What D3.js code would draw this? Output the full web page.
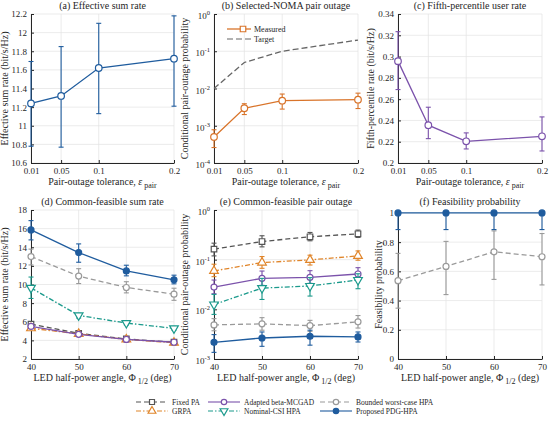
<!DOCTYPE html>
<html><head><meta charset="utf-8">
<script src="https://cdn.jsdelivr.net/npm/d3@7"></script>
<style>body{margin:0;background:#fff}svg{display:block}text{font-family:"Liberation Serif","DejaVu Serif",serif;fill:#262626}</style>
</head><body><svg id="c" width="550" height="421"></svg>
<script>
// ---------- data ----------
const tolerances = [0.01, 0.05, 0.1, 0.2];
const tolTicks = ["0.01", "0.05", "0.1", "0.2"];
const angles = [40, 50, 60, 70];

// (a) effective sum rate vs tolerance
const sumRate = [11.24, 11.32, 11.62, 11.72];
const sumRateLo = [10.78, 10.77, 11.13, 11.21];
const sumRateHi = [11.69, 11.85, 12.10, 12.18];

// (b) selected-NOMA pair outage
const measured = [5.0e-4, 2.95e-3, 4.7e-3, 5.0e-3];
const measuredLo = [2.6e-4, 2.0e-3, 2.8e-3, 2.9e-3];
const measuredHi = [7.8e-4, 3.9e-3, 7.1e-3, 7.5e-3];
const target = [0.01, 0.05, 0.1, 0.2];

// (c) fifth-percentile user rate
const p5Rate = [0.2957, 0.2355, 0.2204, 0.2251];
const p5RateLo = [0.269, 0.2229, 0.2132, 0.2113];
const p5RateHi = [0.3234, 0.2524, 0.2283, 0.2433];

// schemes
const schemes = ["Fixed PA", "GRPA", "Adapted beta-MCGAD", "Nominal-CSI HPA", "Bounded worst-case HPA", "Proposed PDG-HPA"];

// (d) common-feasible sum rate [scheme][angle]
const cfRate = [
  [5.75, 4.75, 4.15, 3.8],
  [5.3, 4.7, 4.1, 3.75],
  [5.5, 4.65, 4.1, 3.8],
  [9.64, 6.68, 5.86, 5.29],
  [13.0, 10.9, 9.68, 8.96],
  [15.86, 13.43, 11.46, 10.5]
];
const cfRateLo = [
  [5.6, 4.6, 4.0, 3.65],
  [5.15, 4.55, 3.95, 3.6],
  [5.35, 4.5, 3.95, 3.65],
  [8.5, 6.4, 5.65, 5.1],
  [12.1, 10.1, 9.1, 8.3],
  [14.79, 12.39, 10.93, 10.07]
];
const cfRateHi = [
  [5.9, 4.9, 4.3, 3.95],
  [5.45, 4.85, 4.25, 3.9],
  [5.65, 4.8, 4.25, 3.95],
  [10.8, 6.9, 6.05, 5.5],
  [13.8, 11.7, 10.3, 9.6],
  [16.86, 14.36, 12.07, 11.0]
];

// (e) common-feasible pair outage
const cfOut = [
  [0.163, 0.232, 0.289, 0.332],
  [0.0593, 0.0874, 0.0989, 0.119],
  [0.0281, 0.0421, 0.0441, 0.0515],
  [0.0125, 0.0268, 0.0295, 0.039],
  [0.00486, 0.0051, 0.0047, 0.0056],
  [0.00217, 0.00265, 0.00287, 0.00278]
];
const cfOutLo = [
  [0.119, 0.181, 0.24, 0.28],
  [0.0455, 0.067, 0.078, 0.0975],
  [0.0206, 0.0304, 0.0334, 0.039],
  [0.0079, 0.0158, 0.0185, 0.026],
  [0.0037, 0.0038, 0.0036, 0.0042],
  [0.00136, 0.0018, 0.0019, 0.0022]
];
const cfOutHi = [
  [0.215, 0.303, 0.353, 0.394],
  [0.081, 0.1156, 0.123, 0.150],
  [0.0389, 0.059, 0.06, 0.069],
  [0.02, 0.042, 0.0435, 0.052],
  [0.0065, 0.0068, 0.006, 0.0075],
  [0.0031, 0.0035, 0.0038, 0.0035]
];

// (f) feasibility probability (visible series)
const feasBounded = [0.536, 0.634, 0.734, 0.70];
const feasBoundedLo = [0.348, 0.441, 0.545, 0.507];
const feasBoundedHi = [0.723, 0.805, 0.877, 0.859];
const feasProposed = [1, 1, 1, 1];
const feasProposedLo = [0.886, 0.886, 0.886, 0.886];
const feasProposedHi = [1, 1, 1, 1];

// ---------- styles ----------
const styles = [
  {color:"#555555", dash:"5,3", marker:"square", fill:"#fff"},
  {color:"#e0852a", dash:"5,2,1.5,2", marker:"tri", fill:"#fff"},
  {color:"#7b52ab", dash:null, marker:"circle", fill:"#fff"},
  {color:"#1b9a8c", dash:"5,2,1.5,2", marker:"itri", fill:"#fff"},
  {color:"#9a9a9a", dash:"5,3", marker:"circle", fill:"#fff"},
  {color:"#1f5c9e", dash:null, marker:"circle", fill:"#1f5c9e"}
];
const blue = "#1f5c9e", orange = "#d9742a", purple = "#7b52ab";

const svg = d3.select("#c");

function drawMarker(g, type, x, y, color, fill, r) {
  r = r || 3;
  if (type === "none") return;
  if (type === "circle") {
    g.append("circle").attr("cx", x).attr("cy", y).attr("r", r).attr("fill", fill).attr("stroke", color).attr("stroke-width", 1.2);
  } else {
    let p;
    if (type === "square") p = d3.symbol(d3.symbolSquare, r*r*3.4)();
    else p = d3.symbol(d3.symbolTriangle, r*r*3.6)();
    g.append("path").attr("d", p)
      .attr("transform", `translate(${x},${y})` + (type === "itri" ? " rotate(180)" : ""))
      .attr("fill", fill).attr("stroke", color).attr("stroke-width", 1.2);
  }
}

function panel(cfg) {
  const g = svg.append("g");
  const x = d3.scaleLinear().domain(cfg.xdom).range([cfg.left, cfg.right]);
  const y = (cfg.log ? d3.scaleLog() : d3.scaleLinear()).domain(cfg.ydom).range([cfg.bottom, cfg.top]);
  // grid
  cfg.xticks.forEach(t => g.append("line").attr("x1", x(t)).attr("x2", x(t)).attr("y1", cfg.top).attr("y2", cfg.bottom).attr("stroke", "#e3e3e3").attr("stroke-width", 0.7));
  cfg.yticks.forEach(t => g.append("line").attr("x1", cfg.left).attr("x2", cfg.right).attr("y1", y(t)).attr("y2", y(t)).attr("stroke", "#e3e3e3").attr("stroke-width", 0.7));
  // axes
  const xa = g.append("g").attr("transform", `translate(0,${cfg.bottom})`)
    .call(d3.axisBottom(x).tickValues(cfg.xticks).tickSize(-3).tickSizeOuter(0).tickPadding(5).tickFormat((d,i) => cfg.xlabels[i]));
  const ya = g.append("g").attr("transform", `translate(${cfg.left},0)`)
    .call(d3.axisLeft(y).tickValues(cfg.yticks).tickSize(-3).tickSizeOuter(0).tickPadding(4).tickFormat(cfg.log ? () => "" : (d,i) => cfg.ylabels[i]));
  [xa, ya].forEach(a => {
    a.attr("font-family", null);
    a.select(".domain").attr("stroke", "#262626").attr("stroke-width", 1);
    a.selectAll(".tick line").attr("stroke", "#262626");
    a.selectAll("text").style("font-family", '"Liberation Serif",serif').style("font-size", "9px").attr("fill", "#262626");
  });
  if (cfg.log) {
    ya.selectAll(".tick").each(function(d) {
      const t = d3.select(this).select("text").text(null);
      t.append("tspan").text("10");
      t.append("tspan").attr("dy", -4).style("font-size", "6.5px").text(Math.round(Math.log10(d)));
      t.attr("x", -4).attr("dy", "0.5em");
    });
  }
  // title
  g.append("text").attr("x", (cfg.left + cfg.right)/2).attr("y", cfg.top - 5).attr("text-anchor", "middle").style("font-size", "10px").text(cfg.title);
  // y label
  g.append("text").attr("transform", `translate(${cfg.ylx},${(cfg.top+cfg.bottom)/2}) rotate(-90)`).attr("text-anchor", "middle").style("font-size", "10px").text(cfg.ylabel);
  // x label
  const xl = g.append("text").attr("x", (cfg.left + cfg.right)/2).attr("y", cfg.bottom + 22).attr("text-anchor", "middle").style("font-size", "10px");
  if (cfg.xkind === "tol") {
    xl.append("tspan").text("Pair-outage tolerance, ");
    xl.append("tspan").style("font-style", "italic").text("ε");
    xl.append("tspan").attr("dy", 3).style("font-size", "8px").text(" pair");
  } else {
    xl.append("tspan").text("LED half-power angle, Φ");
    xl.append("tspan").attr("dy", 3).style("font-size", "8px").text(" 1/2");
    xl.append("tspan").attr("dy", -3).text(" (deg)");
  }
  return {g, x, y};
}

function series(p, xs, ys, lo, hi, st, opts) {
  opts = opts || {};
  const {g, x, y} = p;
  const line = d3.line().x((d,i) => x(xs[i])).y(d => y(d));
  g.append("path").attr("d", line(ys)).attr("fill", "none").attr("stroke", st.color).attr("stroke-width", 1.3)
    .attr("stroke-dasharray", st.dash || null);
  if (lo) {
    xs.forEach((xv, i) => {
      const cx = x(xv), y1 = y(lo[i]), y2 = y(hi[i]);
      g.append("line").attr("x1", cx).attr("x2", cx).attr("y1", y1).attr("y2", y2).attr("stroke", st.color).attr("stroke-width", 1.1);
      [y1, y2].forEach(yy => g.append("line").attr("x1", cx - 2.5).attr("x2", cx + 2.5).attr("y1", yy).attr("y2", yy).attr("stroke", st.color).attr("stroke-width", 1.1));
    });
  }
  xs.forEach((xv, i) => drawMarker(g, st.marker, x(xv), y(ys[i]), st.color, st.fill, opts.r));
}

const topRow = {top: 14, bottom: 163};
const botRow = {top: 210, bottom: 359};

// (a)
const pa = panel({left:31, right:174, ...topRow, xdom:[0.01,0.2], xticks:tolerances, xlabels:tolTicks,
  ydom:[10.6,12.2], yticks:[10.6,10.8,11,11.2,11.4,11.6,11.8,12,12.2], ylabels:["10.6","10.8","11","11.2","11.4","11.6","11.8","12","12.2"],
  title:"(a) Effective sum rate", ylabel:"Effective sum rate (bit/s/Hz)", ylx:8, xkind:"tol"});
series(pa, tolerances, sumRate, sumRateLo, sumRateHi, {color:blue, dash:null, marker:"circle", fill:"#fff"}, {r:3.3});

// (b)
const pb = panel({left:214, right:358, ...topRow, xdom:[0.01,0.2], xticks:tolerances, xlabels:tolTicks,
  log:true, ydom:[1e-4,1], yticks:[1e-4,1e-3,1e-2,1e-1,1],
  title:"(b) Selected-NOMA pair outage", ylabel:"Conditional pair-outage probability", ylx:188, xkind:"tol"});
series(pb, tolerances, target, null, null, {color:"#666", dash:"6,3", marker:"none"});
series(pb, tolerances, measured, measuredLo, measuredHi, {color:orange, dash:null, marker:"circle", fill:"#fff"}, {r:3.3});
// legend (b)
(function(){
  const g = pb.g;
  g.append("line").attr("x1", 227).attr("x2", 251).attr("y1", 29).attr("y2", 29).attr("stroke", orange).attr("stroke-width", 1.3);
  drawMarker(g, "square", 243, 29, orange, "#fff", 3);
  g.append("text").attr("x", 254).attr("y", 32).style("font-size", "8px").text("Measured");
  g.append("line").attr("x1", 227).attr("x2", 251).attr("y1", 39).attr("y2", 39).attr("stroke", "#666").attr("stroke-width", 1.2).attr("stroke-dasharray", "6,3");
  g.append("text").attr("x", 254).attr("y", 42).style("font-size", "8px").text("Target");
})();

// (c)
const pc = panel({left:398, right:542, ...topRow, xdom:[0.01,0.2], xticks:tolerances, xlabels:tolTicks,
  ydom:[0.2,0.34], yticks:[0.2,0.22,0.24,0.26,0.28,0.3,0.32,0.34], ylabels:["0.2","0.22","0.24","0.26","0.28","0.3","0.32","0.34"],
  title:"(c) Fifth-percentile user rate", ylabel:"Fifth-percentile rate (bit/s/Hz)", ylx:374, xkind:"tol"});
series(pc, tolerances, p5Rate, p5RateLo, p5RateHi, {color:purple, dash:null, marker:"circle", fill:"#fff"}, {r:3.3});

// (d)
const pd = panel({left:31, right:174, ...botRow, xdom:[40,70], xticks:angles, xlabels:["40","50","60","70"],
  ydom:[2,18], yticks:[2,4,6,8,10,12,14,16,18], ylabels:["2","4","6","8","10","12","14","16","18"],
  title:"(d) Common-feasible sum rate", ylabel:"Effective sum rate (bit/s/Hz)", ylx:8, xkind:"led"});
[0,1,3,4,2,5].forEach(k => series(pd, angles, cfRate[k], cfRateLo[k], cfRateHi[k], styles[k]));

// (e)
const pe = panel({left:214, right:358, ...botRow, xdom:[40,70], xticks:angles, xlabels:["40","50","60","70"],
  log:true, ydom:[1e-3,1], yticks:[1e-3,1e-2,1e-1,1],
  title:"(e) Common-feasible pair outage", ylabel:"Conditional pair-outage probability", ylx:188, xkind:"led"});
[0,1,2,3,4,5].forEach(k => series(pe, angles, cfOut[k], cfOutLo[k], cfOutHi[k], styles[k]));

// (f)
const pf = panel({left:398, right:542, ...botRow, xdom:[40,70], xticks:angles, xlabels:["40","50","60","70"],
  ydom:[0,1.02], yticks:[0,0.2,0.4,0.6,0.8,1], ylabels:["0","0.2","0.4","0.6","0.8","1"],
  title:"(f) Feasibility probability", ylabel:"Feasibility probability", ylx:382, xkind:"led"});
series(pf, angles, feasBounded, feasBoundedLo, feasBoundedHi, styles[4]);
series(pf, angles, feasProposed, feasProposedLo, feasProposedHi, styles[5]);

// bottom legend
const legPos = [[136,402],[136,411],[208,402],[208,411],[320,402],[320,411]];
schemes.forEach((name, k) => {
  const [lx, ly] = legPos[k];
  const st = styles[k];
  const lg = svg.append("g");
  lg.append("line").attr("x1", lx).attr("x2", lx + 32).attr("y1", ly).attr("y2", ly).attr("stroke", st.color).attr("stroke-width", 1.1).attr("stroke-dasharray", st.dash || null);
  drawMarker(lg, st.marker, lx + 16, ly, st.color, st.fill, 2.7);
  lg.append("text").attr("x", lx + 36).attr("y", ly + 2.5).style("font-size", "7.5px").text(name);
});
</script></body></html>
